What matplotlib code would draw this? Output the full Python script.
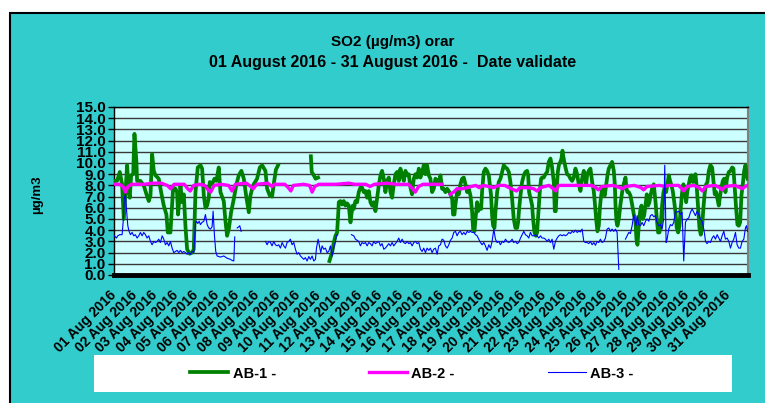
import numpy as np
import matplotlib.pyplot as plt
from matplotlib.patches import Rectangle

nan = np.nan

# SO2 hourly values, August 2016: (hours since 01 Aug 00:00, ug/m3); nan = missing data
ab1 = [(0, 8.4), (3.1, 8.4), (6.3, 9.2), (9.0, 8.1), (11.0, 5.0), (12.9, 7.4), (14.9, 9.8), (16.8, 7.4),
       (18.0, 6.9), (19.6, 8.9), (22.0, 9.0), (23.5, 12.6), (25.8, 10.1), (26.6, 8.4), (30.5, 8.4), (34.4, 8.0),
       (37.6, 7.2), (40.3, 6.6), (42.3, 7.1), (44.2, 10.8), (46.2, 9.3), (48.1, 8.9), (52.0, 8.6), (54.8, 7.4),
       (57.9, 6.2), (61.0, 5.4), (62.6, 3.8), (65.7, 3.8), (66.5, 4.8), (68.9, 7.8), (71.6, 7.7), (73.5, 7.4),
       (74.7, 5.4), (77.5, 8.0), (79.4, 6.5), (81.4, 7.2), (83.3, 4.4), (85.3, 2.3), (88.4, 1.9), (91.2, 2.0),
       (93.1, 2.3), (95.1, 7.4), (97.8, 9.6), (101.0, 9.8), (102.9, 9.5), (104.9, 7.1), (106.8, 6.0), (108.8, 6.2),
       (110.7, 6.9), (111.9, 8.3), (114.6, 8.1), (117.4, 8.6), (119.7, 8.4), (122.4, 9.6), (124.4, 7.4),
       (128.3, 6.6), (130.3, 4.8), (132.2, 3.5), (134.2, 4.1), (136.9, 5.6), (140.1, 6.8), (143.2, 8.1),
       (145.9, 8.9), (149.0, 9.3), (151.8, 8.6), (154.9, 6.9), (157.7, 5.6), (159.6, 7.1), (162.7, 8.0),
       (167.4, 8.6), (170.6, 9.6), (173.3, 9.8), (177.2, 9.3), (179.2, 7.7), (182.3, 7.1), (185.0, 7.0),
       (187.5, 8.4), (189.5, 9.4), (192.0, 9.8), (200, nan),
       (230.5, 10.6), (231.5, 9.2), (234.0, 8.9), (236.0, 8.6), (239.0, 8.7), (245, nan),
       (252.3, 1.25), (255.4, 2.0), (257.4, 2.9), (259.4, 3.5), (261.3, 3.8), (262.5, 5.3), (263.3, 6.5),
       (265.2, 6.6), (267.2, 6.3), (269.1, 6.6), (271.1, 6.2), (273.0, 6.4), (275.0, 6.2), (277.0, 4.7),
       (278.1, 5.4), (279.7, 6.2), (280.9, 5.9), (282.8, 6.6), (284.8, 6.5), (286.7, 7.4), (288.7, 7.8),
       (290.6, 7.8), (292.6, 7.4), (294.6, 7.5), (296.5, 6.9), (298.5, 7.5), (300.4, 6.5), (302.4, 6.2),
       (304.3, 6.5), (306.3, 5.7), (308.3, 6.9), (310.2, 8.0), (312.2, 8.9), (314.1, 9.3), (316.1, 8.6),
       (318.0, 7.4), (320.0, 8.4), (322.0, 8.7), (323.9, 7.4), (325.9, 6.9), (327.8, 8.1), (329.8, 9.0),
       (331.7, 9.2), (333.7, 8.4), (335.6, 9.5), (337.6, 8.9), (339.6, 8.4), (341.5, 9.3), (343.5, 8.9),
       (345.4, 9.0), (347.4, 7.8), (349.3, 7.2), (351.3, 8.6), (353.2, 9.0), (355.2, 8.7), (357.2, 9.5),
       (359.1, 8.7), (361.1, 9.2), (363.0, 9.8), (365.0, 9.0), (366.9, 9.8), (368.9, 8.9), (370.8, 8.6),
       (372.8, 7.4), (374.7, 7.7), (376.7, 8.6), (378.7, 8.4), (380.6, 8.3), (382.6, 8.9), (384.5, 7.7),
       (386.5, 7.7), (388.4, 7.4), (390.4, 7.7), (392.4, 7.5), (394.3, 7.2), (396.3, 6.8), (397.4, 5.4),
       (399.0, 5.4), (400.2, 6.3), (402.1, 7.4), (404.1, 7.2), (406.0, 8.1), (408.0, 8.6), (410.0, 8.7),
       (411.9, 8.1), (413.9, 7.4), (415.8, 7.7), (417.8, 7.1), (419.7, 5.7), (420.9, 4.1), (422.5, 3.9),
       (423.7, 5.0), (425.6, 6.5), (426.8, 5.7), (428.7, 6.2), (430.3, 5.9), (431.5, 7.5), (433.4, 9.2),
       (435.4, 9.5), (437.3, 9.3), (439.3, 8.9), (440.5, 8.1), (442.0, 7.1), (443.2, 5.3), (444.4, 4.4),
       (446.0, 4.2), (447.1, 5.6), (449.1, 7.4), (451.0, 8.3), (453.0, 8.6), (455.0, 9.2), (456.9, 9.8),
       (458.9, 9.6), (460.8, 9.5), (462.8, 9.2), (464.7, 8.3), (466.7, 6.8), (468.6, 5.0), (470.6, 4.2),
       (472.6, 4.2), (473.7, 4.7), (474.9, 5.9), (476.5, 7.1), (478.4, 8.3), (480.4, 8.9), (482.3, 9.2),
       (484.3, 9.3), (485.5, 8.9), (486.6, 7.4), (488.2, 6.9), (490.2, 6.2), (491.3, 5.0), (492.9, 3.8),
       (494.5, 3.5), (496.0, 3.8), (497.6, 5.6), (499.1, 7.4), (500.7, 8.6), (501.9, 8.7), (503.8, 8.7),
       (505.8, 9.0), (507.8, 9.2), (509.7, 10.1), (511.7, 10.4), (513.6, 9.6), (515.6, 8.3), (516.8, 5.7),
       (517.9, 5.7), (519.1, 7.7), (520.3, 9.2), (521.8, 9.9), (523.4, 10.1), (524.6, 10.4), (525.8, 11.1),
       (526.5, 10.7), (527.7, 10.2), (529.3, 9.6), (531.2, 9.0), (533.2, 8.9), (535.1, 8.6), (537.1, 8.4),
       (539.0, 8.7), (541.0, 9.5), (543.0, 9.0), (544.9, 8.1), (546.9, 7.5), (548.8, 8.6), (550.8, 9.3),
       (552.0, 8.9), (553.5, 8.1), (554.7, 8.9), (556.6, 9.3), (558.6, 9.5), (560.6, 8.3), (562.5, 7.5),
       (563.7, 6.5), (565.3, 5.0), (566.8, 3.9), (568.4, 4.4), (569.6, 5.9), (570.7, 6.8), (572.3, 7.7),
       (573.9, 7.4), (575.4, 7.1), (577.0, 8.0), (578.6, 8.9), (580.1, 9.5), (582.1, 9.8), (584.0, 10.1),
       (586.0, 9.3), (587.2, 8.1), (588.0, 6.3), (589.1, 4.8), (590.3, 4.4), (591.9, 5.0), (593.8, 6.3),
       (595.8, 7.4), (597.7, 8.1), (599.7, 8.7), (600.9, 7.7), (602.0, 7.4), (603.6, 7.4), (605.5, 7.1),
       (607.5, 6.3), (609.5, 5.4), (611.4, 4.8), (612.6, 3.2), (613.8, 2.7), (615.3, 4.4), (616.9, 5.7),
       (618.5, 6.2), (620.0, 5.0), (621.6, 5.3), (623.2, 6.2), (624.7, 7.2), (626.3, 6.2), (627.8, 6.5),
       (629.4, 7.2), (631.0, 7.7), (632.9, 8.1), (634.9, 6.6), (636.5, 5.0), (638.0, 3.8), (639.6, 3.8),
       (641.1, 4.5), (642.7, 6.2), (644.3, 7.4), (645.8, 7.8), (647.4, 7.4), (649.0, 8.1), (650.5, 8.9),
       (652.1, 8.4), (653.7, 8.0), (655.2, 7.5), (656.8, 6.6), (658.4, 5.6), (659.9, 4.2), (661.5, 3.8),
       (663.1, 4.4), (664.6, 6.0), (666.2, 7.4), (667.7, 8.1), (669.3, 7.4), (670.9, 6.5), (672.4, 7.5),
       (674.0, 8.1), (675.6, 8.7), (677.1, 8.9), (678.7, 8.3), (680.3, 8.4), (681.8, 9.0), (683.4, 7.8),
       (685.0, 5.9), (686.5, 4.2), (688.1, 3.6), (689.7, 4.4), (691.2, 6.0), (692.8, 7.4), (694.4, 8.1),
       (695.9, 8.3), (697.5, 9.3), (699.4, 9.8), (701.4, 9.6), (703.0, 8.4), (704.5, 7.2), (706.1, 7.4),
       (707.7, 6.8), (709.2, 6.2), (710.8, 7.1), (712.3, 7.8), (713.9, 8.4), (715.5, 8.6), (717.0, 7.4),
       (719.0, 8.7), (721.0, 9.2), (722.9, 9.3), (724.9, 9.6), (726.4, 9.5), (728.0, 7.7), (729.6, 5.9),
       (731.1, 4.5), (732.7, 4.4), (734.3, 4.7), (735.8, 7.1), (737.4, 8.1), (739.0, 9.3), (740.5, 9.8),
       (742.0, 8.9), (743.0, 8.6)]

ab2 = [(0, 8.1), (6, 8.1), (10, 7.9), (13, 7.4), (16, 7.9), (20, 8.1), (35, 8.1), (45, 8.2), (55, 8.2),
       (62, 8.0), (66, 7.7), (70, 8.1), (82, 8.1), (86, 7.7), (89, 7.5), (93, 8.0), (100, 8.1), (106, 8.0),
       (110, 7.6), (113, 7.4), (117, 8.0), (125, 8.1), (134, 8.0), (138, 7.5), (142, 8.1), (155, 8.2),
       (160, 7.9), (163, 7.7), (167, 8.1), (180, 8.2), (185, 7.9), (188, 8.1), (200, 8.1), (204, 7.8),
       (207, 7.5), (210, 8.0), (222, 8.1), (229, 8.0), (232, 7.4), (235, 7.9), (240, 8.1), (260, 8.1),
       (275, 8.2), (282, 8.1), (295, 8.1), (300, 7.9), (305, 8.1), (320, 8.2), (330, 8.1), (345, 8.1),
       (350, 7.7), (353, 7.4), (357, 7.9), (362, 8.1), (375, 8.1), (384.5, 8.1), (389, nan),
       (394, 7.2), (398, 7.4), (402, 7.7), (408, 7.7), (414, 7.8), (424, 8.0), (428, 7.8), (433, 8.0),
       (445, 7.8), (451, 8.0), (458, 8.0), (463, 7.8), (469, 7.6), (472, 7.5), (476, 7.8), (486, 7.8),
       (492, 7.7), (496, 7.5), (500, 7.8), (510, 8.0), (515, 7.7), (518, 7.5), (521, 8.0), (535, 8.0),
       (546, 8.0), (560, 8.0), (565, 7.8), (568, 7.6), (572, 7.9), (585, 8.0), (593, 7.8), (596, 7.7),
       (600, 7.9), (610, 8.0), (618, 7.8), (621, 7.6), (625, 7.9), (640, 8.0), (646, 7.9), (650, 8.0),
       (662, 8.0), (666, 7.7), (668, 7.5), (672, 7.9), (680, 8.0), (686, 7.8), (690, 7.5), (694, 7.9),
       (705, 8.0), (710, 7.8), (713, 7.6), (717, 7.9), (728, 8.0), (734, 7.8), (737, 7.7), (740, 7.9),
       (743, 8.0)]

ab3 = [(0.0, 3.5), (2.4, 3.3), (3.9, 3.5), (6.3, 3.6), (9.0, 3.6), (10.2, 4.7), (11.7, 6.9), (12.9, 7.2),
       (14.1, 5.9), (15.7, 4.4), (17.2, 3.9), (18.8, 3.6), (20.7, 3.8), (22.7, 3.5), (24.6, 3.6), (26.6, 3.3),
       (28.6, 3.5), (30.5, 3.8), (32.5, 3.5), (34.4, 3.8), (36.4, 3.6), (38.3, 3.3), (40.3, 3.5), (42.3, 3.0),
       (44.2, 2.7), (46.2, 3.0), (48.1, 2.9), (50.1, 3.0), (52.0, 3.2), (54.0, 2.9), (56.0, 3.5), (57.9, 3.2),
       (59.9, 2.7), (61.8, 2.9), (63.8, 2.6), (65.7, 3.0), (67.7, 2.4), (69.6, 2.0), (71.6, 2.1), (73.5, 2.2),
       (75.5, 2.0), (77.5, 2.2), (79.4, 2.0), (81.4, 2.1), (83.3, 2.0), (85.3, 1.85), (87.2, 2.0),
       (89.2, 1.85), (91.2, 2.1), (93.1, 2.0), (95.1, 4.6), (96.2, 4.8), (97.8, 4.6), (99.4, 4.8),
       (100.9, 4.5), (102.9, 4.7), (104.9, 4.8), (106.8, 5.4), (108.8, 4.5), (110.7, 4.2), (112.7, 4.1),
       (114.6, 4.3), (115.8, 5.7), (117.4, 3.5), (118.9, 2.1), (120.5, 1.7), (124.4, 1.6), (128.3, 1.7),
       (132.2, 1.5), (136.1, 1.4), (138.1, 1.3), (140.1, 1.25), (141.2, 3.4), (142.5, nan),
       (144.0, 4.2), (145.9, 4.3), (147.1, 4.4), (148.7, 3.9), (160, nan),
       (177.2, 3.0), (179.2, 2.7), (181.1, 3.0), (183.1, 2.9), (185.0, 2.6), (187.0, 3.0), (188.9, 2.7),
       (190.9, 2.6), (192.8, 2.7), (194.8, 2.4), (196.8, 2.9), (198.7, 2.6), (200.7, 2.4), (202.6, 2.9),
       (204.6, 3.0), (206.5, 3.2), (208.5, 2.7), (210.5, 2.9), (212.4, 2.3), (214.4, 1.85), (216.3, 2.0),
       (218.3, 1.7), (220.2, 1.55), (222.2, 1.4), (224.1, 1.55), (226.1, 1.25), (228.1, 1.65), (230.0, 1.4),
       (232.0, 1.7), (233.9, 1.25), (235.9, 1.4), (237.1, 2.4), (239.0, 3.2), (240.6, 2.6), (242.1, 2.0),
       (243.7, 2.6), (245.7, 2.3), (247.6, 2.4), (249.6, 2.0), (251.5, 2.1), (253.5, 2.6), (255.4, 1.7),
       (257.4, 2.4), (259.4, 3.0), (260.5, 3.5), (262.1, 3.6), (270, nan),
       (278.1, 3.6), (280.9, 3.5), (282.8, 3.2), (286.7, 3.0), (288.7, 2.6), (290.6, 2.9), (292.6, 2.8),
       (294.6, 2.9), (296.5, 2.6), (298.5, 2.9), (300.4, 2.8), (302.4, 2.6), (304.3, 3.0), (306.3, 2.8),
       (308.3, 2.9), (310.2, 3.0), (312.2, 2.6), (314.1, 2.8), (316.1, 2.3), (318.0, 2.4), (320.0, 2.6),
       (322.0, 2.8), (323.9, 2.6), (325.9, 2.9), (327.8, 2.6), (329.8, 2.8), (331.7, 3.0), (333.7, 3.3),
       (335.6, 2.9), (337.6, 3.2), (339.6, 2.9), (341.5, 2.8), (343.5, 3.0), (345.4, 2.8), (347.4, 2.9),
       (349.3, 2.6), (351.3, 2.9), (353.2, 3.0), (355.2, 2.8), (357.2, 2.9), (359.1, 2.3), (361.1, 2.1),
       (363.0, 2.4), (365.0, 2.0), (366.9, 2.4), (368.9, 2.2), (370.8, 2.4), (372.8, 2.0), (374.7, 2.3),
       (376.7, 2.4), (378.7, 1.85), (380.6, 2.6), (382.6, 2.7), (384.5, 3.2), (386.5, 3.1), (388.4, 2.6),
       (390.4, 2.4), (392.4, 2.7), (394.3, 3.1), (396.3, 3.3), (398.2, 3.8), (400.2, 3.9), (402.1, 3.5),
       (404.1, 3.8), (406.0, 3.9), (408.0, 3.6), (410.0, 3.8), (411.9, 3.6), (413.9, 3.9), (415.8, 3.8),
       (417.8, 3.9), (419.7, 3.8), (421.7, 3.8), (423.7, 3.6), (425.6, 3.5), (427.6, 3.2), (429.5, 2.9),
       (431.5, 2.7), (433.4, 2.9), (435.4, 2.6), (437.3, 2.2), (439.3, 2.7), (441.3, 2.4), (443.2, 3.0),
       (445.2, 4.1), (447.1, 3.2), (449.1, 2.9), (451.0, 3.0), (453.0, 2.7), (455.0, 3.0), (456.9, 2.9),
       (458.9, 3.2), (460.8, 3.0), (462.8, 2.9), (464.7, 3.0), (466.7, 3.2), (468.6, 2.9), (470.6, 3.0),
       (472.6, 2.8), (474.5, 2.9), (476.5, 3.3), (478.4, 3.6), (480.4, 3.9), (482.3, 3.6), (484.3, 3.5),
       (486.2, 3.3), (488.2, 3.8), (490.2, 3.5), (492.1, 3.5), (494.1, 3.6), (496.0, 3.5), (498.0, 3.3),
       (500.0, 3.5), (501.9, 3.3), (503.9, 3.3), (505.8, 3.2), (507.8, 3.0), (509.7, 3.2), (511.7, 2.9),
       (513.6, 3.2), (515.6, 2.3), (517.5, 3.0), (519.5, 3.3), (521.5, 3.5), (523.4, 3.6), (525.4, 3.5),
       (527.3, 3.6), (529.3, 3.5), (531.2, 3.6), (533.2, 3.8), (535.1, 3.7), (537.1, 3.9), (539.0, 3.8),
       (541.0, 4.0), (543.0, 3.8), (544.9, 3.9), (546.9, 3.85), (548.8, 4.1), (550.8, 3.0), (552.7, 2.9),
       (554.7, 2.9), (556.6, 2.8), (558.6, 3.0), (560.6, 2.7), (562.5, 2.9), (564.5, 2.65), (566.4, 3.0),
       (568.4, 2.9), (570.3, 3.2), (572.3, 2.9), (574.3, 3.0), (576.2, 3.3), (578.2, 4.1), (580.1, 4.2),
       (582.1, 3.9), (584.0, 4.1), (586.0, 3.9), (587.9, 4.1), (589.9, 3.8), (591.9, 0.5), (595, nan),
       (599.7, 3.2), (601.6, 3.5), (603.6, 3.8), (605.5, 3.7), (607.5, 4.4), (609.5, 5.4), (610.6, 5.0),
       (612.2, 4.4), (613.4, 5.3), (615.3, 4.5), (617.3, 4.4), (619.2, 4.7), (621.2, 4.4), (623.2, 4.8),
       (625.1, 5.0), (627.1, 4.8), (629.0, 5.3), (631.0, 5.4), (632.9, 5.2), (634.9, 5.3), (636.8, 4.7),
       (638.8, 4.4), (640.8, 4.5), (642.7, 4.1), (644.7, 5.1), (645.8, 9.8), (647.4, 2.9), (648.6, 3.2),
       (650.5, 4.1), (652.5, 4.5), (654.4, 4.4), (656.4, 4.7), (658.4, 5.7), (660.3, 5.6), (662.3, 5.7),
       (664.2, 5.4), (666.2, 5.6), (668.1, 1.25), (670.1, 4.7), (672.1, 5.0), (674.0, 5.1), (676.0, 5.6),
       (677.9, 5.9), (679.9, 5.6), (681.8, 5.3), (683.8, 5.7), (685.7, 5.4), (687.7, 5.0), (689.7, 4.8),
       (691.6, 4.1), (692.8, 3.5), (693.6, 3.0), (695.5, 2.8), (697.5, 3.0), (699.4, 2.9), (701.4, 3.3),
       (703.3, 3.5), (705.3, 3.2), (707.3, 3.6), (709.2, 3.3), (711.2, 3.0), (713.1, 3.5), (715.1, 3.9),
       (717.0, 3.2), (719.0, 3.3), (721.0, 3.0), (722.9, 2.4), (724.9, 2.9), (726.8, 3.2), (728.8, 3.8),
       (730.7, 2.7), (732.7, 2.4), (734.6, 2.4), (736.6, 3.0), (738.6, 3.2), (740.5, 4.2), (741.7, 4.4),
       (743.0, 3.9)]

series_names = ["AB-1 -", "AB-2 -", "AB-3 -"]
day_labels = [f"{d:02d} Aug 2016" for d in range(1, 32)]
day_hours = [24 * i for i in range(31)]
y_ticks = list(range(16))

W, H = 765, 403
plt.rcParams['font.family'] = ['Liberation Sans', 'DejaVu Sans']
plt.rcParams['font.weight'] = 'bold'

fig = plt.figure(figsize=(W / 100, H / 100), dpi=100)
fig.patch.set_facecolor('white')
# teal chart area with black border on left/top (behind the axes)
fig.patches.append(Rectangle((10 / W, -0.01), 1, 1 - 13 / H + 0.01, transform=fig.transFigure,
                             facecolor='#33CCCC', edgecolor='black', lw=1.5, zorder=-10))
# white legend box
fig.patches.append(Rectangle((94 / W, 1 - 392 / H), (732 - 94) / W, 37 / H, transform=fig.transFigure,
                             facecolor='white', edgecolor='none', zorder=-5))

ax = fig.add_axes([114 / W, 1 - 275 / H, (748 - 114) / W, (275 - 107) / H])
ax.set_facecolor('#CCFFFF')

styles = [dict(color='#008000', lw=2.7, zorder=3),
          dict(color='#FF00FF', lw=2.4, zorder=4),
          dict(color='#0000FF', lw=0.8, zorder=5)]
handles = []
for data, name, st in zip([ab1, ab2, ab3], series_names, styles):
    arr = np.array(data, dtype=float)
    line, = ax.plot(arr[:, 0], arr[:, 1], label=name, solid_joinstyle='round', **st)
    handles.append(line)

ax.set_xlim(-0.5, 743.5)
ax.set_ylim(0, 15)
ax.set_yticks(y_ticks)
ax.set_yticklabels([f"{v:.1f}" for v in y_ticks], fontsize=11, fontweight='bold')
ax.yaxis.grid(True, color='#383838', lw=1)
ax.set_axisbelow(True)
ax.tick_params(axis='y', length=4, width=1, pad=2)

ax.set_xticks(day_hours)
ax.set_xticklabels(day_labels, rotation=45, ha='right', va='center', rotation_mode='anchor',
                   fontsize=10, fontweight='bold')
ax.tick_params(axis='x', length=0, pad=13)

ax.spines['bottom'].set_linewidth(3.5)
ax.spines['bottom'].set_color('black')
ax.spines['left'].set_linewidth(1)
ax.spines['top'].set_linewidth(1)
ax.spines['right'].set_color('#808080')
ax.spines['right'].set_linewidth(1.5)

fig.text(393 / W, 1 - 42 / H, "SO2 (µg/m3) orar", ha='center', va='center', fontsize=11, fontweight='bold')
fig.text(393 / W, 1 - 62 / H, "01 August 2016 - 31 August 2016 -  Date validate", ha='center', va='center',
         fontsize=11.5, fontweight='bold')
fig.text(37 / W, 1 - 195 / H, "µg/m3", rotation=90, ha='center', va='center', fontsize=9.5, fontweight='bold')

fig.legend(handles, series_names, loc='center', bbox_to_anchor=(412 / W, 1 - 373.5 / H), ncol=3,
           frameon=False, fontsize=10.5, handlelength=2.6, handletextpad=0.3, columnspacing=6.4)

fig.savefig("out.png", dpi=100, facecolor=fig.get_facecolor())
